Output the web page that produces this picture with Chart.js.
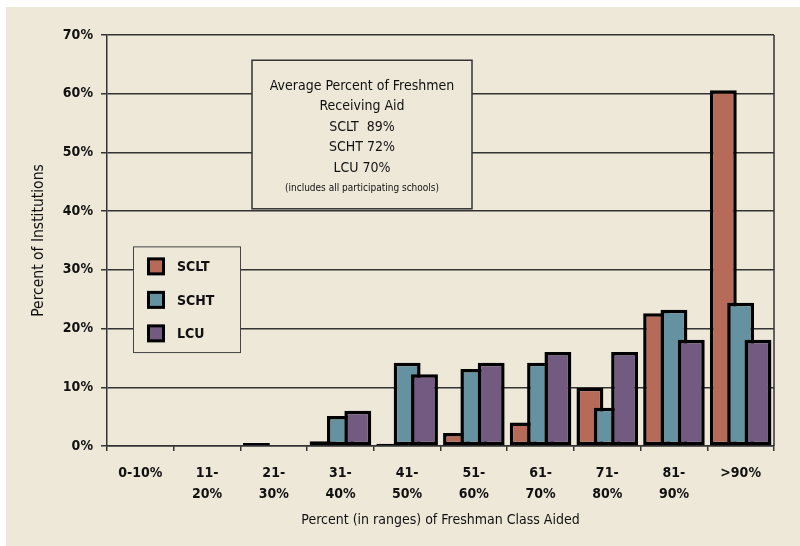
<!DOCTYPE html>
<html>
<head>
<meta charset="utf-8">
<script src="https://cdn.jsdelivr.net/npm/chart.js@4"></script>
<style>
  html, body { margin: 0; padding: 0; background: #fff; }
  #wrap { width: 800px; height: 546px; }
</style>
</head>
<body>
<div id="wrap"><canvas id="chart" width="800" height="546"></canvas></div>
<script>
// Chart data ----- START
const categories = [['0-10%'], ['11-', '20%'], ['21-', '30%'], ['31-', '40%'], ['41-', '50%'],
    ['51-', '60%'], ['61-', '70%'], ['71-', '80%'], ['81-', '90%'], ['>90%']];
const scltValues = [0, 0, 0.5, 0.8, 0.4, 2.2, 4.0, 9.9, 22.6, 60.6];
const schtValues = [0, 0, 0, 5.1, 14.2, 13.1, 14.2, 6.5, 23.2, 24.4];
const lcuValues = [0, 0, 0, 6.0, 12.2, 14.2, 16.0, 16.0, 18.1, 18.1];
const yTicks = [0, 10, 20, 30, 40, 50, 60, 70];
const noteLines = ['Average Percent of Freshmen', 'Receiving Aid', 'SCLT  89%', 'SCHT 72%', 'LCU 70%'];
const noteFootnote = '(includes all participating schools)';
// Chart data ----- END

const FONT = "'Liberation Sans Narrow', 'DejaVu Sans Condensed', 'Liberation Sans', sans-serif";
const BEIGE = '#ede8d8';

//Paints the white frame and the beige panel behind everything
const backgroundPlugin = {
    id: 'background',
    beforeDraw(chart) {
        const ctx = chart.ctx;
        ctx.save();
        ctx.fillStyle = '#ffffff';
        ctx.fillRect(0, 0, chart.width, chart.height);
        ctx.fillStyle = BEIGE;
        ctx.fillRect(6, 7, chart.width - 6, chart.height - 7);
        ctx.restore();
    }
};

//Draw the bars first to last so the later series sit on top of the earlier ones (like the overlap in Excel)
const barOrderPlugin = {
    id: 'barOrder',
    beforeDatasetsDraw(chart) {
        chart.getSortedVisibleDatasetMetas().forEach(meta => meta.controller.draw());
        return false;
    }
};

//Right border line, legend box and the note box
const overlayPlugin = {
    id: 'overlay',
    afterDraw(chart) {
        const ctx = chart.ctx;
        const area = chart.chartArea;
        const y = chart.scales.y;
        ctx.save();

        //right edge of the plot
        ctx.strokeStyle = '#333';
        ctx.lineWidth = 1.5;
        ctx.beginPath();
        ctx.moveTo(area.right, area.top);
        ctx.lineTo(area.right, area.bottom);
        ctx.stroke();

        //legend box
        const lx = 133, ly = y.getPixelForValue(34), lw = 107, lh = y.getPixelForValue(16) - ly;
        ctx.fillStyle = BEIGE;
        ctx.fillRect(lx, ly, lw, lh);
        ctx.strokeStyle = '#444';
        ctx.lineWidth = 1;
        ctx.strokeRect(lx + 0.5, ly + 0.5, lw, lh);
        ctx.font = 'bold 14px ' + FONT;
        ctx.textBaseline = 'middle';
        ctx.textAlign = 'left';
        chart.data.datasets.forEach((ds, i) => {
            const cy = ly + 20 + i * 33.5;
            ctx.fillStyle = '#000';
            ctx.fillRect(lx + 14, cy - 9, 18, 18);
            ctx.fillStyle = ds.backgroundColor;
            ctx.fillRect(lx + 17, cy - 6, 12, 12);
            ctx.fillStyle = '#111';
            ctx.fillText(ds.label, lx + 44, cy + 1);
        });

        //note box
        const nx = 252, ny = y.getPixelForValue(65.7), nw = 220, nh = y.getPixelForValue(40.4) - ny;
        ctx.fillStyle = BEIGE;
        ctx.fillRect(nx, ny, nw, nh);
        ctx.strokeStyle = '#333';
        ctx.lineWidth = 1.5;
        ctx.strokeRect(nx, ny, nw, nh);
        ctx.fillStyle = '#111';
        ctx.textAlign = 'center';
        ctx.font = '14px ' + FONT;
        noteLines.forEach((line, i) => {
            ctx.fillText(line, nx + nw / 2, ny + 26 + i * 20.5);
        });
        ctx.font = '10px ' + FONT;
        ctx.fillText(noteFootnote, nx + nw / 2, ny + 128);
        ctx.restore();
    }
};

const chartElement = document.getElementById('chart').getContext('2d');
const chart = new Chart(chartElement, {
    type: 'bar',
    data: {
        labels: categories,
        datasets: [{
            label: 'SCLT',
            data: scltValues,
            backgroundColor: '#b56b57'
        }, {
            label: 'SCHT',
            data: schtValues,
            backgroundColor: '#6592a0'
        }, {
            label: 'LCU',
            data: lcuValues,
            backgroundColor: '#725a80'
        }]
    },
    options: {
        responsive: false,
        animation: false,
        devicePixelRatio: 1,
        layout: { padding: { top: 35, right: 26, bottom: 0, left: 0 } },
        datasets: {
            bar: {
                borderColor: '#000',
                borderWidth: 3.5,
                borderSkipped: false,
                categoryPercentage: 0.78,
                barPercentage: 1.55
            }
        },
        plugins: {
            legend: { display: false },
            tooltip: { enabled: false }
        },
        scales: {
            x: {
                offset: true,
                grid: {
                    offset: true,
                    drawOnChartArea: false,
                    drawTicks: true,
                    tickLength: 5,
                    color: '#333',
                    lineWidth: 1.5
                },
                border: { display: true, color: '#333', width: 1.5 },
                ticks: {
                    color: '#111',
                    padding: 12,
                    maxRotation: 0,
                    autoSkip: false,
                    font: { family: FONT, size: 14, weight: 'bold', lineHeight: 1.5 }
                },
                title: {
                    display: true,
                    text: 'Percent (in ranges) of Freshman Class Aided',
                    color: '#111',
                    padding: { top: 4, bottom: 17 },
                    font: { family: FONT, size: 14 }
                },
                afterFit: (scale) => { scale.height = 100; }
            },
            y: {
                min: 0,
                max: 70,
                afterBuildTicks: (scale) => { scale.ticks = yTicks.map(v => ({ value: v })); },
                grid: {
                    color: '#333',
                    lineWidth: 1.5,
                    tickLength: 6
                },
                border: { display: true, color: '#333', width: 1.5 },
                ticks: {
                    color: '#111',
                    padding: 8,
                    callback: (v) => v + '%',
                    font: { family: FONT, size: 14, weight: 'bold' }
                },
                title: {
                    display: true,
                    text: 'Percent of Institutions',
                    color: '#111',
                    padding: { top: 30, bottom: 30 },
                    font: { family: FONT, size: 15.5 }
                },
                afterFit: (scale) => { scale.width = 107; }
            }
        }
    },
    plugins: [backgroundPlugin, barOrderPlugin, overlayPlugin]
});
</script>
</body>
</html>
